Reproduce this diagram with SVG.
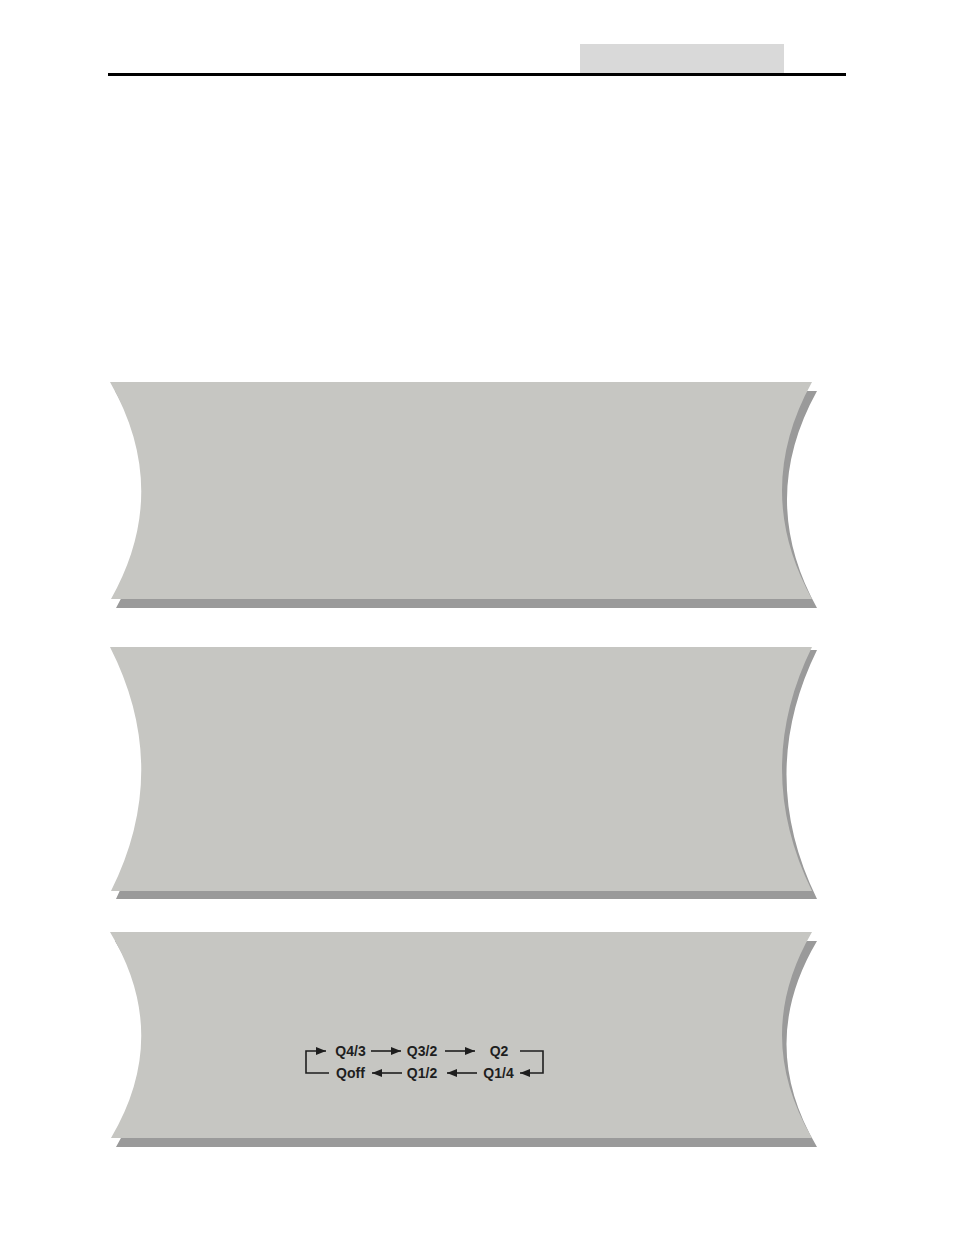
<svg xmlns="http://www.w3.org/2000/svg" width="954" height="1235" viewBox="0 0 954 1235">
<defs>
<style>
.panel{fill:#c6c6c2}
.shadow{fill:#9a9a9a}
.lbl{font-family:"Liberation Sans",Arial,sans-serif;font-weight:bold;font-size:14px;fill:#1e1e1e;text-anchor:middle}
.ln{stroke:#1e1e1e;stroke-width:1.6;fill:none}
</style>
<marker id="ah" viewBox="0 0 10 8" refX="10" refY="4" markerWidth="10" markerHeight="8" markerUnits="userSpaceOnUse" orient="auto">
<path d="M0,0 L10,4 L0,8 Z" fill="#1e1e1e"/>
</marker>
</defs>
<rect width="954" height="1235" fill="#ffffff"/>
<g id="header">
<rect x="580" y="44" width="204" height="29" fill="#d9d9d9"/>
<rect x="108" y="73" width="738" height="3" fill="#000000"/>
</g>
<g id="panel1">
<path class="shadow" d="M115,391 L817,391 Q757,499.5 817,608 L116,608 Q177,499.5 115,391 Z"/>
<path class="panel" d="M110,382 L812,382 Q752,490.5 812,599 L111,599 Q172,490.5 110,382 Z"/>
</g>
<g id="panel2">
<path class="shadow" d="M115,650 L817,650 Q756,774.5 817,899 L116,899 Q177,774.5 115,650 Z"/>
<path class="panel" d="M110,647 L812,647 Q752,769 812,891 L111,891 Q172,769 110,647 Z"/>
</g>
<g id="panel3">
<path class="shadow" d="M115,941 L817,941 Q756,1044 817,1147 L116,1147 Q177,1044 115,941 Z"/>
<path class="panel" d="M110,932 L812,932 Q752,1035 812,1138 L111,1138 Q172,1035 110,932 Z"/>
</g>
<g id="connectors">
<path class="ln" d="M329,1073 L306,1073 L306,1051 L326,1051" marker-end="url(#ah)"/>
<line class="ln" x1="371" y1="1051" x2="401" y2="1051" marker-end="url(#ah)"/>
<line class="ln" x1="445" y1="1051" x2="475" y2="1051" marker-end="url(#ah)"/>
<path class="ln" d="M520,1051 L543,1051 L543,1073 L520,1073" marker-end="url(#ah)"/>
<line class="ln" x1="477" y1="1073" x2="447" y2="1073" marker-end="url(#ah)"/>
<line class="ln" x1="402" y1="1073" x2="372" y2="1073" marker-end="url(#ah)"/>
</g>
<g id="node-q43"><text class="lbl" x="350.5" y="1056">Q4/3</text></g>
<g id="node-q32"><text class="lbl" x="422" y="1056">Q3/2</text></g>
<g id="node-q2"><text class="lbl" x="499" y="1056">Q2</text></g>
<g id="node-q14"><text class="lbl" x="498.5" y="1078">Q1/4</text></g>
<g id="node-q12"><text class="lbl" x="422" y="1078">Q1/2</text></g>
<g id="node-qoff"><text class="lbl" x="350.5" y="1078">Qoff</text></g>
</svg>
